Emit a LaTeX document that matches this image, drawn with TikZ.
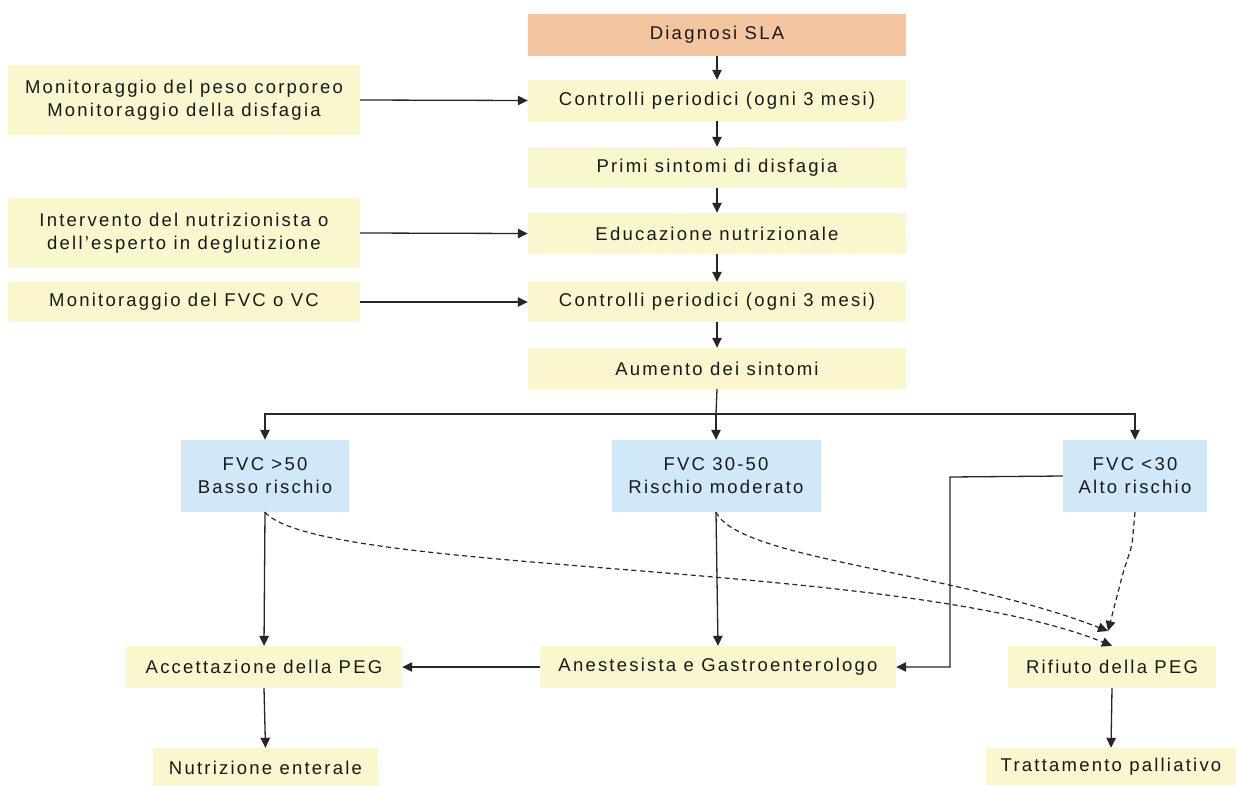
\documentclass[tikz,border=0pt]{standalone}
\usepackage{fontspec}
\setmainfont[LetterSpace=12]{Liberation Sans}
\usetikzlibrary{arrows.meta}
\definecolor{boxy}{RGB}{250,246,206}
\definecolor{boxb}{RGB}{208,232,248}
\definecolor{boxo}{RGB}{244,198,160}
\definecolor{txt}{RGB}{25,25,25}
\tikzset{
  bx/.style={fill=boxy,draw=none,inner sep=0pt,align=center,text=txt,font=\fontsize{18.5}{23}\selectfont},
  bb/.style={bx,fill=boxb},
  bo/.style={bx,fill=boxo},
  arr/.style={-{Triangle[length=10pt,width=9.5pt]},line width=1.3pt,draw=black!85},
  darr/.style={arr,line width=1.2pt,dash pattern=on 5pt off 3.5pt}
}
\begin{document}
\begin{tikzpicture}[x=1pt,y=-1pt]
\useasboundingbox (0,0) rectangle (1237,785);
\node[bo,minimum width=378pt,minimum height=42pt] (diag) at (717,35) {Diagnosi SLA};
\node[bx,minimum width=378pt,minimum height=41pt] (c1) at (717,100.5) {Controlli periodici (ogni 3 mesi)};
\node[bx,minimum width=352pt,minimum height=70pt] (mon1) at (184,100) {Monitoraggio del peso corporeo\\Monitoraggio della disfagia};
\node[bx,minimum width=378pt,minimum height=41pt] (primi) at (717,167.5) {Primi sintomi di disfagia};
\node[bx,minimum width=352pt,minimum height=70pt] (interv) at (184,233) {Intervento del nutrizionista o\\dell'esperto in deglutizione};
\node[bx,minimum width=378pt,minimum height=41pt] (edu) at (717,233.5) {Educazione nutrizionale};
\node[bx,minimum width=352pt,minimum height=40pt] (mon2) at (184,302) {Monitoraggio del FVC o VC};
\node[bx,minimum width=378pt,minimum height=40pt] (c2) at (717,302) {Controlli periodici (ogni 3 mesi)};
\node[bx,minimum width=378pt,minimum height=41pt] (aum) at (717,368.5) {Aumento dei sintomi};
\node[bb,minimum width=168pt,minimum height=72pt] (f1) at (265,476) {FVC >50\\Basso rischio};
\node[bb,minimum width=209pt,minimum height=72pt] (f2) at (716,476) {FVC 30-50\\Rischio moderato};
\node[bb,minimum width=144pt,minimum height=72pt] (f3) at (1135,476) {FVC <30\\Alto rischio};
\node[bx,minimum width=276pt,minimum height=42pt] (acc) at (264,667) {Accettazione della PEG};
\node[bx,minimum width=356pt,minimum height=42pt] (ane) at (718,667) {Anestesista e Gastroenterologo};
\node[bx,minimum width=208pt,minimum height=42pt] (rif) at (1112,667) {Rifiuto della PEG};
\node[bx,minimum width=225pt,minimum height=39pt] (nut) at (265.5,767.5) {Nutrizione enterale};
\node[bx,minimum width=250pt,minimum height=37pt] (tra) at (1111,766.5) {Trattamento palliativo};
\coordinate (split) at (716,414);
\coordinate (r2) at (1108,631);
\draw[arr] (diag.south) -- (c1.north);
\draw[arr] (mon1.east) -- (c1.west);
\draw[arr] (c1.south) -- (primi.north);
\draw[arr] (primi.south) -- (edu.north);
\draw[arr] (interv.east) -- (edu.west);
\draw[arr] (edu.south) -- (c2.north);
\draw[arr] (mon2.east) -- (c2.west);
\draw[arr] (c2.south) -- (aum.north);
\draw[line width=1.3pt,draw=black!85] (aum.south) -- (split);
\draw[arr] (split) -| (f1.north);
\draw[arr] (split) -| (f3.north);
\draw[arr] (split) -- (f2.north);
\draw[arr] (f1.south) -- (acc.north);
\draw[arr] (f2.south) -- (ane.north);
\draw[arr] (f3.west) -- (950,477) |- (ane.east);
\draw[arr] (ane.west) -- (acc.east);
\draw[arr] (acc.south) -- (nut.north);
\draw[arr] (rif.south) -- (tra.north);
\draw[darr] (f1.south) .. controls (320,575) and (900,560) .. (rif.north);
\draw[darr] (f2.south) .. controls (740,560) and (950,570) .. (r2);
\draw[darr,rounded corners=5pt] (f3.south) -- (1132,545) -- (1123,573) -- (r2);
\end{tikzpicture}
\end{document}
